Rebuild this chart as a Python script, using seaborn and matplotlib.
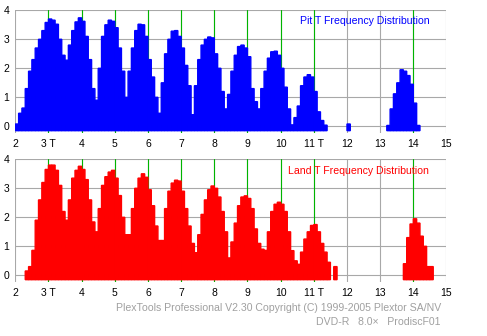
import numpy as np
import pandas as pd
import matplotlib
matplotlib.use("Agg")
import matplotlib.pyplot as plt
import seaborn as sns

# ---- data (bin width 0.1 T, bins start at 2.0) ----
pit_values = (
    [0.08, 0.45, 0.63, 1.3, 1.9, 2.3, 2.7, 3.0, 3.3, 3.58]        # 2.x
    + [3.7, 3.66, 3.52, 3.0, 2.45, 2.28, 2.8, 3.3, 3.6, 3.74]     # 3.x
    + [3.62, 3.1, 2.3, 1.3, 0.9, 2.0, 3.1, 3.5, 3.66, 3.62]       # 4.x
    + [3.4, 2.7, 1.9, 1.0, 1.9, 2.7, 3.3, 3.52, 3.5, 3.1]         # 5.x
    + [2.3, 1.7, 1.0, 0.45, 1.5, 2.5, 3.0, 3.28, 3.3, 3.1]        # 6.x
    + [2.7, 2.1, 1.4, 0.4, 1.4, 2.3, 2.8, 3.0, 3.08, 3.05]        # 7.x
    + [2.5, 2.0, 1.2, 0.6, 1.1, 1.9, 2.45, 2.75, 2.8, 2.7]        # 8.x
    + [2.4, 1.3, 0.85, 0.6, 1.3, 1.9, 2.35, 2.57, 2.59, 2.45]     # 9.x
    + [2.0, 1.35, 0.6, 0.05, 0.3, 0.7, 1.4, 1.7, 1.78, 1.7]       # 10.x
    + [1.2, 0.5, 0.2, 0.04, 0, 0, 0, 0, 0, 0]                     # 11.x
    + [0.08, 0, 0, 0, 0, 0, 0, 0, 0, 0]                           # 12.x
    + [0, 0, 0.03, 0.6, 1.12, 1.5, 1.95, 1.9, 1.75, 1.45]         # 13.x
    + [0.8, 0.03, 0, 0, 0, 0]                                     # 14.x
)
land_values = (
    [0, 0, 0, 0.15, 0.3, 0.86, 1.9, 2.6, 3.2, 3.65]               # 2.x
    + [3.8, 3.8, 3.62, 3.1, 2.2, 1.9, 2.6, 3.35, 3.62, 3.76]      # 3.x
    + [3.65, 3.3, 2.6, 1.84, 1.5, 2.3, 3.1, 3.4, 3.56, 3.62]      # 4.x
    + [3.35, 2.75, 2.0, 1.4, 1.4, 2.3, 3.0, 3.35, 3.5, 3.38]      # 5.x
    + [2.95, 2.4, 1.7, 1.2, 1.2, 2.3, 2.9, 3.18, 3.28, 3.25]      # 6.x
    + [2.9, 2.3, 1.7, 1.1, 0.78, 1.4, 2.1, 2.6, 2.95, 3.08]       # 7.x
    + [3.0, 2.7, 2.2, 1.5, 0.6, 1.15, 1.8, 2.4, 2.7, 2.74]        # 8.x
    + [2.65, 2.3, 1.6, 1.1, 0.9, 0.86, 1.5, 2.2, 2.45, 2.52]      # 9.x
    + [2.45, 2.2, 1.5, 0.85, 0.5, 0.38, 0.8, 1.25, 1.5, 1.72]     # 10.x
    + [1.75, 1.5, 1.1, 0.8, 0.45, 0, 0.3, 0, 0, 0]                # 11.x
    + [0, 0, 0, 0, 0, 0, 0, 0, 0, 0]                              # 12.x
    + [0, 0, 0, 0, 0, 0, 0, 0.4, 1.3, 1.77]                       # 13.x
    + [1.95, 1.8, 1.35, 1.0, 0.3, 0.3]                            # 14.x
)
x_ticks = [2, 3, 4, 5, 6, 7, 8, 9, 10, 11, 12, 13, 14, 15]
x_labels = ["2", "3 T", "4", "5", "6", "7", "8", "9", "10", "11 T", "12", "13", "14", "15"]
y_ticks = [0, 1, 2, 3, 4]
green_marks = [3, 4, 5, 6, 7, 8, 9, 10, 11, 14]
pit_title = "Pit T Frequency Distribution"
land_title = "Land T Frequency Distribution"
footer1 = "PlexTools Professional V2.30 Copyright (C) 1999-2005 Plextor SA/NV"
footer2 = "DVD-R   8.0\u00d7   ProdiscF01"

# ---- styling ----
sns.set_style("white")
plt.rcParams["font.family"] = ["Liberation Sans", "DejaVu Sans"]

W, H = 487, 336
fig = plt.figure(figsize=(W / 100, H / 100), dpi=100)


def px_axes(x0, x1, ytop, ybot):
    return fig.add_axes([x0 / W, 1 - ybot / H, (x1 - x0) / W, (ybot - ytop) / H])


n_bins = len(pit_values)
BIN_W = 0.1
T_START = 2.0
centers = T_START + BIN_W * (np.arange(n_bins) + 0.5)
BASE = -0.15
GRID = "#a8a8a8"


def draw(ax, values, color, title, tx, ty):
    df = pd.DataFrame({"T": centers, "count": values})
    sns.histplot(data=df, x="T", weights="count", binwidth=BIN_W,
                 binrange=(T_START, T_START + BIN_W * n_bins), color=color,
                 alpha=1, edgecolor=color, linewidth=1.0, ax=ax, zorder=3)
    for p in ax.patches:
        h = p.get_height()
        if h > 0:
            p.set_y(BASE)
            p.set_height(h - BASE)
            p.set_snap(False)
        else:
            p.set_visible(False)
    ax.set_xlim(2, 15)
    ax.set_ylim(-0.22, 4.0)
    ax.set_xticks(x_ticks)
    ax.set_xticklabels(x_labels)
    ax.set_yticks(y_ticks)
    ax.set_axisbelow(True)
    ax.grid(True, color=GRID, linewidth=0.8)
    for g in green_marks:
        ax.axvline(g, color="#00b400", linewidth=0.8, zorder=1)
    for s in ax.spines.values():
        s.set_visible(False)
    ax.tick_params(axis="x", length=0, pad=4.5, labelsize=7.5, colors="black")
    ax.tick_params(axis="y", length=3, width=0.8, color=GRID, pad=1.5,
                   labelsize=7.5, labelcolor="black")
    ax.set_xlabel("")
    ax.set_ylabel("")
    ax.text(tx, ty, title, transform=ax.transAxes, ha="left", va="center",
            color=color, fontsize=7.6, zorder=5)


ax_top = px_axes(15.3, 446.5, 10.3, 132.7)
ax_bot = px_axes(15.3, 446.5, 159.3, 281.7)
draw(ax_top, pit_values, "#0000ff", pit_title, 0.66, 0.913)
draw(ax_bot, land_values, "#ff0000", land_title, 0.632, 0.907)

fig.text(441 / W, 1 - 308 / H, footer1, ha="right", va="center",
         color="#a0a0a0", fontsize=7.6)
fig.text(441 / W, 1 - 322 / H, footer2, ha="right", va="center",
         color="#a0a0a0", fontsize=7.6)

fig.savefig("out.png", dpi=100)
